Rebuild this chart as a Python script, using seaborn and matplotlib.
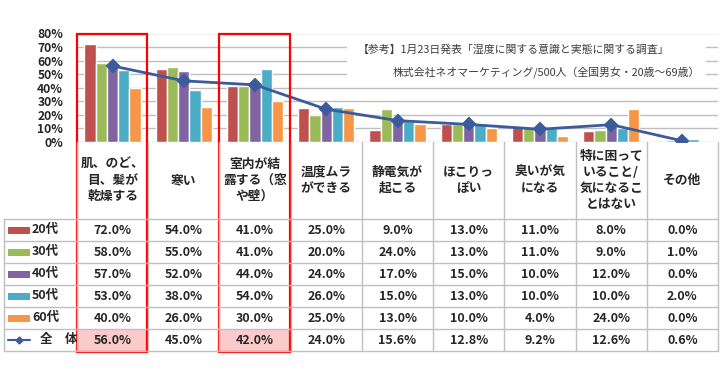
import numpy as np
import pandas as pd
import matplotlib
matplotlib.use("Agg")
import matplotlib.pyplot as plt
from matplotlib.patches import Rectangle
import seaborn as sns

# data
categories = ["肌、のど、\n目、髪が\n乾燥する", "寒い", "室内が結\n露する（窓\nや壁）",
              "温度ムラ\nができる", "静電気が\n起こる", "ほこりっ\nぽい", "臭いが気\nになる",
              "特に困って\nいること/\n気になるこ\nとはない", "その他"]
ages = ["20代", "30代", "40代", "50代", "60代"]
v20 = [72.0, 54.0, 41.0, 25.0, 9.0, 13.0, 11.0, 8.0, 0.0]
v30 = [58.0, 55.0, 41.0, 20.0, 24.0, 13.0, 11.0, 9.0, 1.0]
v40 = [57.0, 52.0, 44.0, 24.0, 17.0, 15.0, 10.0, 12.0, 0.0]
v50 = [53.0, 38.0, 54.0, 26.0, 15.0, 13.0, 10.0, 10.0, 2.0]
v60 = [40.0, 26.0, 30.0, 25.0, 13.0, 10.0, 4.0, 24.0, 0.0]
total = [56.0, 45.0, 42.0, 24.0, 15.6, 12.8, 9.2, 12.6, 0.6]
total_label = "全　体"
yticks = [0, 10, 20, 30, 40, 50, 60, 70, 80]
note1 = "【参考】1月23日発表「湿度に関する意識と実態に関する調査」"
note2 = "株式会社ネオマーケティング/500人（全国男女・20歳～69歳）"

colors = ["#C0504D", "#9BBB59", "#8064A2", "#4BACC6", "#F79646"]
line_color = "#3B5B9A"
grid_color = "#BFBFBF"

sns.set_style("white")
plt.rcParams["font.family"] = ["Noto Sans CJK JP", "DejaVu Sans"]

series = [v20, v30, v40, v50, v60]
df = pd.DataFrame({
    "cat": np.tile(categories, len(ages)),
    "age": np.repeat(ages, len(categories)),
    "value": np.concatenate(series),
})

W, H = 722, 381
fig = plt.figure(figsize=(W / 100, H / 100), dpi=100)

# geometry in pixels
x0, x1 = 77, 718
y_top, y_zero = 33.5, 141.7
col_w = (x1 - x0) / len(categories)
row_top, row_h = 219, 22

ax = fig.add_axes([x0 / W, 1 - y_zero / H, (x1 - x0) / W, (y_zero - y_top) / H])
sns.barplot(data=df, x="cat", y="value", hue="age", palette=colors, width=0.79,
            gap=0, saturation=1, legend=False, ax=ax)
sns.pointplot(x=categories, y=total, color=line_color, markers="D", markersize=6,
              linewidth=2, errorbar=None, ax=ax)
ax.set_ylim(0, 80)
ax.set_xlim(-0.5, len(categories) - 0.5)
ax.set_yticks(yticks)
ax.set_yticklabels([f"{t}%" for t in yticks], fontsize=8.7, fontweight="bold")
ax.tick_params(axis="y", length=0, pad=10)
ax.set_xticks([])
ax.set_xlabel("")
ax.set_ylabel("")
ax.grid(axis="y", color=grid_color, linewidth=1)
ax.set_axisbelow(True)
for s in ["top", "right", "left", "bottom"]:
    ax.spines[s].set_visible(False)

# overlay in pixel coordinates for the data table
ov = fig.add_axes([0, 0, 1, 1], zorder=5)
ov.set_xlim(0, W)
ov.set_ylim(H, 0)
ov.axis("off")
ov.patch.set_alpha(0)

# note box
ov.add_patch(Rectangle((347, 40), 359, 42, facecolor="white", edgecolor="none"))
ov.text(358, 50, note1, fontsize=7.8, color="#3C3C3C", ha="left", va="center")
ov.text(700, 72, note2, fontsize=7.8, color="#3C3C3C", ha="right", va="center")

# pink highlight cells
n_rows = len(ages) + 1
for i in [0, 2]:
    ov.add_patch(Rectangle((x0 + i * col_w, row_top + (n_rows - 1) * row_h), col_w, row_h,
                           facecolor="#FBCACB", edgecolor="none"))

# table grid
for k in range(n_rows + 1):
    y = row_top + k * row_h
    ov.plot([4, x1], [y, y], color=grid_color, linewidth=1)
ov.plot([4, 4], [row_top, row_top + n_rows * row_h], color=grid_color, linewidth=1)
for i in range(len(categories) + 1):
    x = x0 + i * col_w
    ov.plot([x, x], [y_zero, row_top + n_rows * row_h], color=grid_color, linewidth=1)

# category labels
for i, c in enumerate(categories):
    ov.text(x0 + (i + 0.5) * col_w, (y_zero + row_top) / 2, c, fontsize=9.2,
            fontweight="bold", ha="center", va="center", linespacing=1.32)

# table values
for r, vals in enumerate(series + [total]):
    yc = row_top + (r + 0.5) * row_h
    for i, v in enumerate(vals):
        ov.text(x0 + (i + 0.5) * col_w, yc, f"{v:.1f}%", fontsize=9,
                fontweight="bold", ha="center", va="center")

# legend column
for r, a in enumerate(ages):
    yc = row_top + (r + 0.5) * row_h
    ov.add_patch(Rectangle((8, yc - 3.5), 22, 7, facecolor=colors[r], edgecolor="none"))
    ov.text(32, yc, a, fontsize=9, fontweight="bold", ha="left", va="center")
yc = row_top + (n_rows - 0.5) * row_h
ov.plot([8, 30], [yc, yc], color=line_color, linewidth=1.5)
ov.plot([19], [yc], marker="D", color=line_color, markersize=3.5)
ov.text(40, yc, total_label, fontsize=9, fontweight="bold", ha="left", va="center")

# red highlight frames
for i in [0, 2]:
    ov.add_patch(Rectangle((x0 + i * col_w, y_top), col_w - 1, 352 - y_top,
                           facecolor="none", edgecolor="#FF0000", linewidth=1.6))

fig.savefig("out.png", dpi=100)
